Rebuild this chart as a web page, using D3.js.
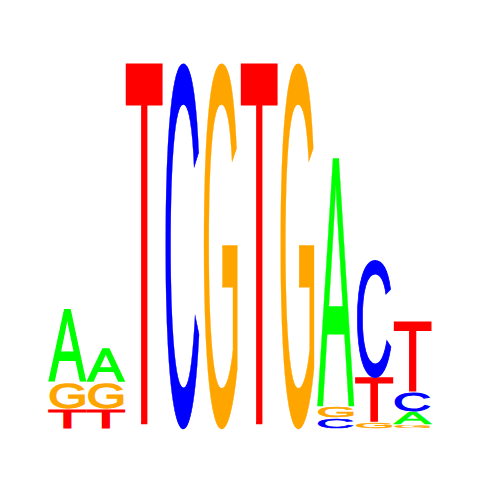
<!DOCTYPE html>
<html>
<head>
<meta charset="utf-8">
<script src="https://cdn.jsdelivr.net/npm/d3@7"></script>
<style>
  html, body { margin: 0; padding: 0; background: #fff; }
</style>
</head>
<body>
<div id="logo"></div>
<script>
// motif positions and letter heights (bits)
const positions = [1, 2, 3, 4, 5, 6, 7, 8, 9, 10];
const bitsA = [0.39, 0.18, 0, 0, 0, 0, 0, 1.348, 0, 0.07];
const bitsC = [0, 0, 0, 1.99, 0, 0, 0, 0.06, 0.64, 0.109];
const bitsG = [0.147, 0.147, 0, 0, 1.99, 0, 1.99, 0.065, 0.038, 0.022];
const bitsT = [0.109, 0.109, 1.99, 0, 0, 1.99, 0, 0, 0.245, 0.38];

const letterColor = { A: "#00ff00", C: "#0000ff", G: "#ffa500", T: "#ff0000" };
const letterInset = { A: 0, C: 1.5, G: 1.5, T: 0 };

const width = 480, height = 480;
const fontFamily = "'Liberation Sans'";
const strokeW = 1.6; // extra horizontal weight, not stretched with the glyph

const svg = d3.select("#logo")
    .append("svg")
    .attr("width", width)
    .attr("height", height);

const x = d3.scaleBand()
    .domain(positions)
    .range([48.3, 431.7])
    .paddingInner(0);

const y = d3.scaleLinear()
    .domain([0, 2])
    .range([429, 61]);

// measure the ink box of each glyph so it can be stretched to fill its slot
const ctx = document.createElement("canvas").getContext("2d");
ctx.font = `400 100px ${fontFamily}`;
const ink = {};
["A", "C", "G", "T"].forEach(l => {
    const m = ctx.measureText(l);
    ink[l] = {
        left: m.actualBoundingBoxLeft,
        right: m.actualBoundingBoxRight,
        ascent: m.actualBoundingBoxAscent,
        descent: m.actualBoundingBoxDescent
    };
});

positions.forEach((p, i) => {
    const stack = [
        { letter: "A", bits: bitsA[i] },
        { letter: "C", bits: bitsC[i] },
        { letter: "G", bits: bitsG[i] },
        { letter: "T", bits: bitsT[i] }
    ].filter(d => d.bits > 0)
     .sort((a, b) => a.bits - b.bits);

    let base = 0;
    stack.forEach(d => {
        const top = base + d.bits;
        const half = strokeW / 2;
        const y0 = y(top) + Math.min(half, (y(base) - y(top)) / 4);
        const h = Math.max(0.5, y(base) - y(top) - 2 * (y0 - y(top)));
        const inset = letterInset[d.letter] + half;
        const x0 = x(p) + inset;
        const w = x.bandwidth() - 2 * inset;
        const b = ink[d.letter];
        const sx = w / (b.left + b.right);
        const sy = h / (b.ascent + b.descent);

        svg.append("g")
            .attr("transform", `translate(${x0},${y0}) scale(${sx},${sy})`)
            .append("text")
            .attr("x", b.left)
            .attr("y", b.ascent)
            .attr("font-family", fontFamily)
            .attr("font-weight", 400)
            .attr("font-size", 100)
            .attr("fill", letterColor[d.letter])
            .attr("stroke", letterColor[d.letter])
            .attr("stroke-width", strokeW)
            .attr("vector-effect", "non-scaling-stroke")
            .text(d.letter);

        base = top;
    });
});
</script>
</body>
</html>
